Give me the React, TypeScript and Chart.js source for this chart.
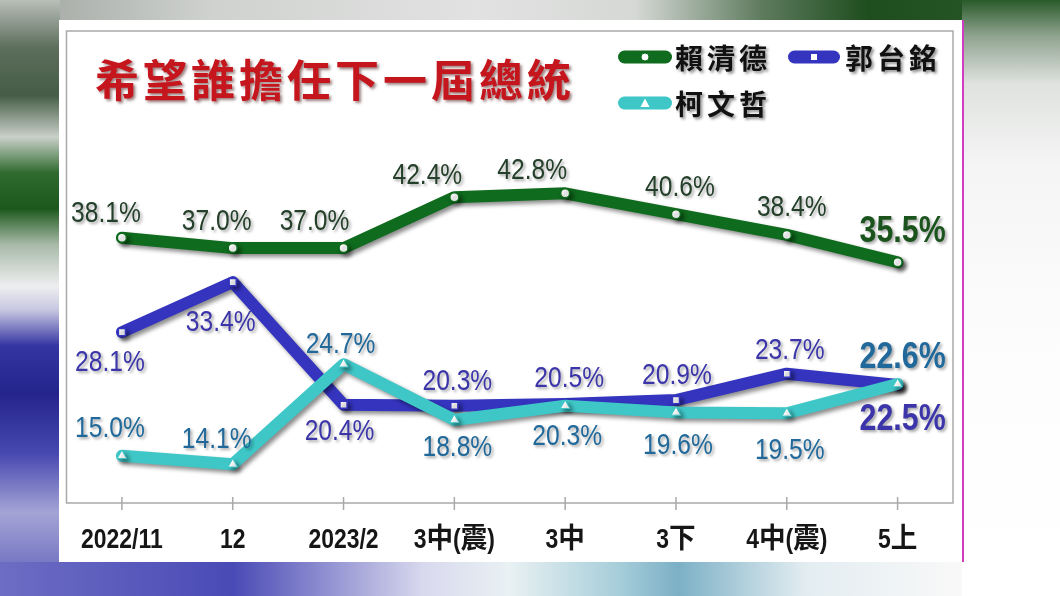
import React, { useEffect, useRef } from "react";
import { Chart, registerables } from "chart.js";

Chart.register(...registerables);

// ---------------- data ----------------
const categories = ["2022/11", "12", "2023/2", "3中(震)", "3中", "3下", "4中(震)", "5上"];
const seriesNames = ["賴清德", "郭台銘", "柯文哲"];
const laiValues = [38.1, 37.0, 37.0, 42.4, 42.8, 40.6, 38.4, 35.5];
const guoValues = [28.1, 33.4, 20.4, 20.3, 20.5, 20.9, 23.7, 22.5];
const koValues = [15.0, 14.1, 24.7, 18.8, 20.3, 19.6, 19.5, 22.6];
const yMin = 10;
const yMax = 60;
const chartTitle = "希望誰擔任下一屆總統";

// label offsets relative to each point (style only)
const laiLabelDx = [-16, -16, -29, -27, -33, 4, 5, 5];
const laiLabelDy = [-24, -26, -26, -21, -23, -26, -27, -30];
const guoLabelDx = [-12, -12, -4, 3, 4, 1, 3, 5];
const guoLabelDy = [31, 41, 27, -24, -25, -24, -23, 35];
const koLabelDx = [-12, -16, -3, 3, 2, 2, 3, 5];
const koLabelDy = [-27, -25, -19, 28, 31, 33, 37, -26];

const GREEN = "#0f6b1d";
const BLUE = "#3434bf";
const CYAN = "#3fc7c8";
const LAI_TEXT = "#24402a";
const LAI_TEXT_BIG = "#1b531d";
const GUO_TEXT = "#3b35a9";
const KO_TEXT = "#20699a";

const SANS = "'Liberation Sans', Arial, 'Noto Sans CJK TC', sans-serif";
const CJK = "'Noto Sans CJK TC', 'Noto Sans CJK SC', sans-serif";
const CONDENSE = 0.82;

function condensedText(ctx: CanvasRenderingContext2D, text: string, x: number, y: number) {
  ctx.save();
  ctx.translate(x, y);
  ctx.scale(CONDENSE, 1);
  ctx.fillText(text, 0, 0);
  ctx.restore();
}

// latin parts condensed (Arial Narrow look), CJK parts at full width; centred on x
function mixedText(ctx: CanvasRenderingContext2D, text: string, x: number, y: number) {
  const segs: { t: string; cjk: boolean }[] = [];
  for (const ch of text) {
    const cjk = ch.charCodeAt(0) > 0x2e00;
    const lastSeg = segs[segs.length - 1];
    if (lastSeg && lastSeg.cjk === cjk) lastSeg.t += ch;
    else segs.push({ t: ch, cjk });
  }
  const widths = segs.map((s) => ctx.measureText(s.t).width * (s.cjk ? 0.95 : CONDENSE));
  const total = widths.reduce((a, b) => a + b, 0);
  let cx = x - total / 2;
  ctx.save();
  ctx.textAlign = "left";
  segs.forEach((s, i) => {
    ctx.save();
    ctx.translate(cx, y);
    ctx.scale(s.cjk ? 0.95 : CONDENSE, 1);
    ctx.fillText(s.t, 0, 0);
    ctx.restore();
    cx += widths[i];
  });
  ctx.restore();
}

export default function App() {
  const ref = useRef<HTMLCanvasElement>(null);

  useEffect(() => {
    const canvas = ref.current;
    if (!canvas) return;

    const framePlugin = {
      id: "frame",
      beforeDatasetsDraw(chart: any) {
        const { ctx, chartArea } = chart;
        const xs = chart.scales.x;
        ctx.save();
        ctx.strokeStyle = "#a9a9a9";
        ctx.lineWidth = 1.5;
        ctx.strokeRect(chartArea.left, chartArea.top, chartArea.right - chartArea.left, chartArea.bottom - chartArea.top);
        ctx.beginPath();
        for (let i = 0; i < categories.length; i++) {
          const x = xs.getPixelForValue(i);
          ctx.moveTo(x, chartArea.bottom - 6);
          ctx.lineTo(x, chartArea.bottom + 7);
        }
        ctx.stroke();
        // category labels
        ctx.fillStyle = "#161616";
        ctx.font = `bold 28px ${SANS}`;
        ctx.textBaseline = "middle";
        for (let i = 0; i < categories.length; i++) {
          const x = xs.getPixelForValue(i);
          mixedText(ctx, xs.getLabelForValue(i), x, chartArea.bottom + 37);
        }
        ctx.restore();
      },
    };

    const shadowPlugin = {
      id: "lineShadow",
      beforeDatasetDraw(chart: any) {
        const ctx = chart.ctx;
        ctx.save();
        ctx.shadowColor = "rgba(0,0,0,0.45)";
        ctx.shadowBlur = 4;
        ctx.shadowOffsetX = 3;
        ctx.shadowOffsetY = 3;
      },
      afterDatasetDraw(chart: any) {
        chart.ctx.restore();
      },
    };

    const labelCfg = [
      { dx: laiLabelDx, dy: laiLabelDy, color: LAI_TEXT, bigColor: LAI_TEXT_BIG, values: laiValues },
      { dx: guoLabelDx, dy: guoLabelDy, color: GUO_TEXT, bigColor: GUO_TEXT, values: guoValues },
      { dx: koLabelDx, dy: koLabelDy, color: KO_TEXT, bigColor: KO_TEXT, values: koValues },
    ];

    const labelPlugin = {
      id: "valueLabels",
      afterDatasetsDraw(chart: any) {
        const ctx = chart.ctx;
        chart.data.datasets.forEach((ds: any, di: number) => {
          const meta = chart.getDatasetMeta(di);
          const cfg = labelCfg[ds.seriesIndex];
          meta.data.forEach((pt: any, i: number) => {
            const last = i === meta.data.length - 1;
            ctx.save();
            ctx.font = last ? `bold 37px ${SANS}` : `30px ${SANS}`;
            ctx.fillStyle = last ? cfg.bigColor : cfg.color;
            ctx.textAlign = "center";
            ctx.textBaseline = "middle";
            ctx.shadowColor = "rgba(0,0,0,0.35)";
            ctx.shadowBlur = 3;
            ctx.shadowOffsetX = 2;
            ctx.shadowOffsetY = 2;
            condensedText(ctx, cfg.values[i].toFixed(1) + "%", pt.x + cfg.dx[i], pt.y + cfg.dy[i]);
            ctx.restore();
          });
        });
      },
    };

    const chart = new Chart(canvas, {
      type: "line",
      data: {
        labels: categories,
        datasets: [
          {
            label: seriesNames[0],
            data: laiValues,
            seriesIndex: 0,
            order: 3,
            borderColor: GREEN,
            borderWidth: 12,
            borderJoinStyle: "round",
            borderCapStyle: "round",
            pointStyle: "circle",
            pointRadius: 4.5,
            pointBackgroundColor: "#ffffff",
            pointBorderColor: GREEN,
            pointBorderWidth: 1.5,
            tension: 0,
          } as any,
          {
            label: seriesNames[1],
            data: guoValues,
            seriesIndex: 1,
            order: 2,
            borderColor: BLUE,
            borderWidth: 12,
            borderJoinStyle: "round",
            borderCapStyle: "round",
            pointStyle: "rect",
            pointRadius: 5,
            pointBackgroundColor: "#ffffff",
            pointBorderColor: BLUE,
            pointBorderWidth: 1.5,
            tension: 0,
          } as any,
          {
            label: seriesNames[2],
            data: koValues,
            seriesIndex: 2,
            order: 1,
            borderColor: CYAN,
            borderWidth: 12,
            borderJoinStyle: "round",
            borderCapStyle: "round",
            pointStyle: "triangle",
            pointRadius: 5.5,
            pointBackgroundColor: "#ffffff",
            pointBorderColor: CYAN,
            pointBorderWidth: 1,
            tension: 0,
          } as any,
        ],
      },
      options: {
        animation: false,
        responsive: false,
        events: [],
        layout: { padding: { left: 7.5, right: 9, top: 11, bottom: 0 } },
        plugins: {
          legend: { display: false },
          title: { display: false },
          tooltip: { enabled: false },
        },
        scales: {
          x: {
            offset: true,
            grid: { display: false, drawTicks: false },
            border: { display: false },
            ticks: { display: false, autoSkip: false },
            afterFit: (s: any) => {
              s.height = 59;
            },
          },
          y: { display: false, min: yMin, max: yMax },
        },
      } as any,
      plugins: [framePlugin, shadowPlugin, labelPlugin],
    });
    return () => chart.destroy();
  }, []);

  const legendText: React.CSSProperties = {
    position: "absolute",
    fontFamily: CJK,
    fontWeight: 700,
    fontSize: 28,
    lineHeight: "28px",
    letterSpacing: 4,
    color: "#111",
    textShadow: "2px 2px 3px rgba(0,0,0,0.45)",
    whiteSpace: "nowrap",
  };

  return (
    <div
      style={{
        position: "fixed",
        left: 0,
        top: 0,
        width: 1060,
        height: 596,
        overflow: "hidden",
        background: "#ececec",
      }}
    >
      {/* blurred photo background */}
      <div
        style={{
          position: "absolute",
          left: 0,
          top: 0,
          width: 1060,
          height: 22,
          background:
            "linear-gradient(90deg, #9ea39e 0%, #cfd2cf 20%, #e2e2e2 45%, #d5d8d5 60%, #5d7a5d 72%, #1e4d1e 82%, #2b5a2b 100%)",
        }}
      />
      <div
        style={{
          position: "absolute",
          left: 0,
          top: 0,
          width: 60,
          height: 596,
          background:
            "linear-gradient(180deg, #b9bfb9 0%, #5c6e5c 8%, #465c46 16%, #c9d0c9 23%, #2f6a2f 29%, #1c581c 35%, #a7b9a7 41%, #eeeef0 48%, #c7c7e2 52%, #3535a2 58%, #24248c 66%, #4747b0 76%, #a4a4d6 86%, #5a5ab8 100%)",
        }}
      />
      <div
        style={{
          position: "absolute",
          left: 0,
          top: 562,
          width: 1060,
          height: 34,
          background:
            "linear-gradient(90deg, #6d6dc4 0%, #4a4ab6 22%, #d9d9ee 40%, #e9f1f3 48%, #a9cfdb 58%, #7cb0c6 64%, #e3edf1 76%, #f8f8f8 90%, #ffffff 100%)",
        }}
      />
      <div
        style={{
          position: "absolute",
          left: 962,
          top: 0,
          width: 98,
          height: 596,
          background:
            "linear-gradient(180deg, #2a5a2a 0%, #8fa38f 6%, #dfe2df 14%, #f5f5f5 28%, #fdfdfd 60%, #ffffff 100%)",
        }}
      />
      {/* white panel with chart */}
      <div
        style={{
          position: "absolute",
          left: 59,
          top: 20,
          width: 903,
          height: 542,
          background: "#ffffff",
          borderRight: "2px solid #d23cc0",
        }}
      >
        <canvas ref={ref} width={903} height={542} style={{ display: "block" }} />
      </div>

      {/* title */}
      <div
        style={{
          position: "absolute",
          left: 95,
          top: 56,
          fontFamily: CJK,
          fontWeight: 700,
          fontSize: 44,
          lineHeight: "44px",
          letterSpacing: 4,
          color: "#c5151d",
          textShadow: "2px 2px 3px rgba(60,0,0,0.5)",
          whiteSpace: "nowrap",
        }}
      >
        {chartTitle}
      </div>

      {/* legend */}
      <svg style={{ position: "absolute", left: 617, top: 49 }} width={58} height={16}>
        <rect x={1} y={1.5} width={54} height={13} rx={6.5} fill={GREEN} />
        <circle cx={28} cy={8} r={4} fill="#fff" stroke={GREEN} strokeWidth={1} />
      </svg>
      <div style={{ ...legendText, left: 675, top: 43 }}>{seriesNames[0]}</div>

      <svg style={{ position: "absolute", left: 787, top: 49 }} width={56} height={16}>
        <rect x={1} y={1.5} width={52} height={13} rx={6.5} fill={BLUE} />
        <rect x={24} y={5} width={6} height={6} fill="#fff" />
      </svg>
      <div style={{ ...legendText, left: 845, top: 43 }}>{seriesNames[1]}</div>

      <svg style={{ position: "absolute", left: 617, top: 95 }} width={58} height={16}>
        <rect x={1} y={1.5} width={54} height={13} rx={6.5} fill={CYAN} />
        <polygon points="28,3.5 32.5,12 23.5,12" fill="#fff" />
      </svg>
      <div style={{ ...legendText, left: 675, top: 89 }}>{seriesNames[2]}</div>
    </div>
  );
}
